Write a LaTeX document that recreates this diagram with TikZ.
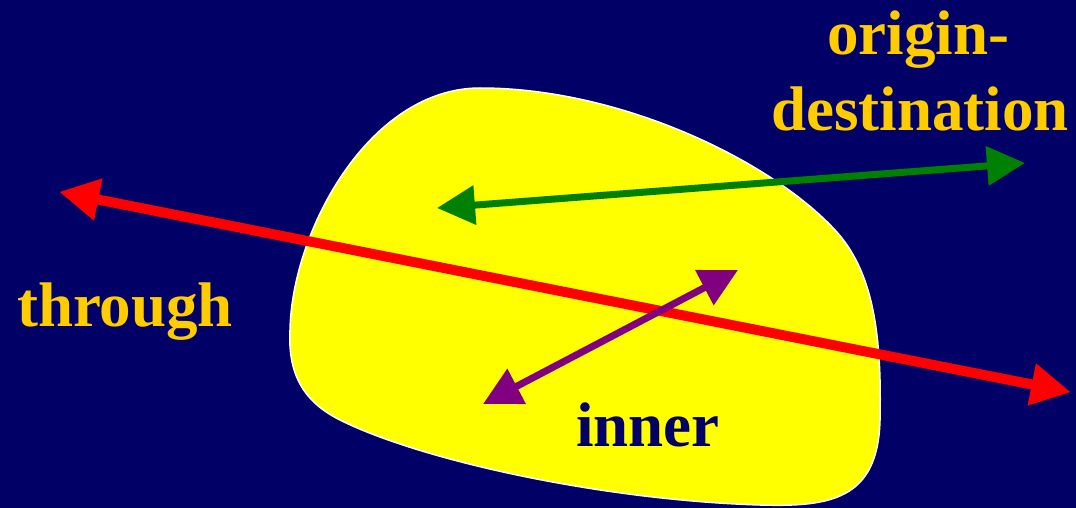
\documentclass[tikz,border=0pt]{standalone}
\usepackage{fontspec}
\setmainfont{Liberation Serif}
\usetikzlibrary{arrows.meta}
\definecolor{bgnavy}{HTML}{000066}
\definecolor{gold}{HTML}{FFCC00}
\definecolor{blobyellow}{HTML}{FFFF00}
\definecolor{arrred}{HTML}{FF0000}
\definecolor{arrgreen}{HTML}{008000}
\definecolor{arrpurple}{HTML}{800080}
\tikzset{
  lbl/.style={font=\bfseries\fontsize{63}{72}\selectfont, inner sep=0pt, anchor=base},
  bigarrow/.style={line width=10pt, {Triangle[length=40pt,width=40pt]}-{Triangle[length=40pt,width=40pt]}},
  midarrow/.style={line width=7pt, {Triangle[length=38pt,width=38pt]}-{Triangle[length=38pt,width=38pt]}},
}
\begin{document}
\begin{tikzpicture}[x=1pt,y=-1pt]
\fill[bgnavy] (0,0) rectangle (1076,508);
\useasboundingbox (0,0) rectangle (1076,508);
% blob
\filldraw[fill=blobyellow, draw=white, line width=1.5pt]
  (290,330) .. controls (292,230) and (370,88) .. (480,88)
  .. controls (620,88) and (770,160) .. (835,230)
  .. controls (872,270) and (882,330) .. (880,420)
  .. controls (878,500) and (830,507) .. (760,505)
  .. controls (600,500) and (420,460) .. (340,420)
  .. controls (300,400) and (288,370) .. (290,330) -- cycle;
% endpoints
\coordinate (rA) at (60,192);
\coordinate (rB) at (1070,392);
\coordinate (gA) at (437,208);
\coordinate (gB) at (1025,163);
\coordinate (pA) at (483,404);
\coordinate (pB) at (738,270);
\draw[bigarrow, draw=arrred, fill=arrred, shorten <=-1pt, shorten >=-1pt] (rA) -- (rB);
\draw[midarrow, draw=arrgreen, fill=arrgreen] (gA) -- (gB);
\draw[midarrow, draw=arrpurple, fill=arrpurple] (pA) -- (pB);
% labels
\node[lbl, text=gold] (orig) at (918,55) {origin-};
\node[lbl, text=gold] (dest) at (920,131) {destination};
\node[lbl, text=gold] (thr) at (125,326) {through};
\node[lbl, text=bgnavy] (inn) at (648,446) {inner};
\end{tikzpicture}
\end{document}
